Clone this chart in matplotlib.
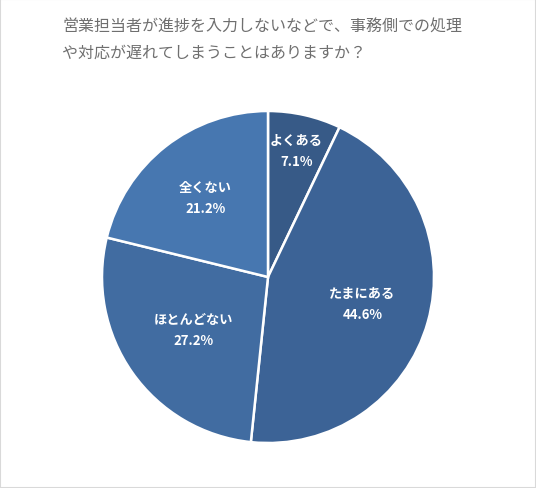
import numpy as np
import matplotlib.pyplot as plt
from matplotlib.patches import Rectangle

plt.rcParams['font.family'] = ['Noto Sans CJK JP', 'DejaVu Sans']

title_lines = ["営業担当者が進捗を入力しないなどで、事務側での処理",
               "や対応が遅れてしまうことはありますか？"]
labels = ["よくある", "たまにある", "ほとんどない", "全くない"]
values = [7.1, 44.6, 27.2, 21.2]
colors = ["#375a87", "#3c6396", "#416ca1", "#4777b0"]
label_dist = [0.78, 0.59, 0.55, 0.61]

fig = plt.figure(figsize=(5.36, 4.89), dpi=100)
fig.patches.append(Rectangle((0, 0), 1, 1, transform=fig.transFigure,
                             fill=False, edgecolor="#d9d9d9", linewidth=1.5))

fig.text(62 / 536, 1 - 27 / 489, title_lines[0], fontsize=11.5, color="#6f6f6f", va="center")
fig.text(62 / 536, 1 - 53 / 489, title_lines[1], fontsize=11.5, color="#6f6f6f", va="center")

r = 166
ax = fig.add_axes([(268 - r) / 536, (489 - 278 - r) / 489, 2 * r / 536, 2 * r / 489])
wedges, _ = ax.pie(values, colors=colors, startangle=90, counterclock=False,
                   wedgeprops=dict(edgecolor="white", linewidth=1.8))
ax.set_xlim(-1, 1)
ax.set_ylim(-1, 1)
ax.set_aspect("auto")

for w, lab, v, d in zip(wedges, labels, values, label_dist):
    ang = np.deg2rad((w.theta1 + w.theta2) / 2)
    x, y = d * np.cos(ang), d * np.sin(ang)
    ax.text(x, y, f"{lab}\n{v:.1f}%", ha="center", va="center", color="white",
            fontsize=9.5, fontweight="bold", linespacing=1.65)

fig.savefig("out.png", dpi=100)
